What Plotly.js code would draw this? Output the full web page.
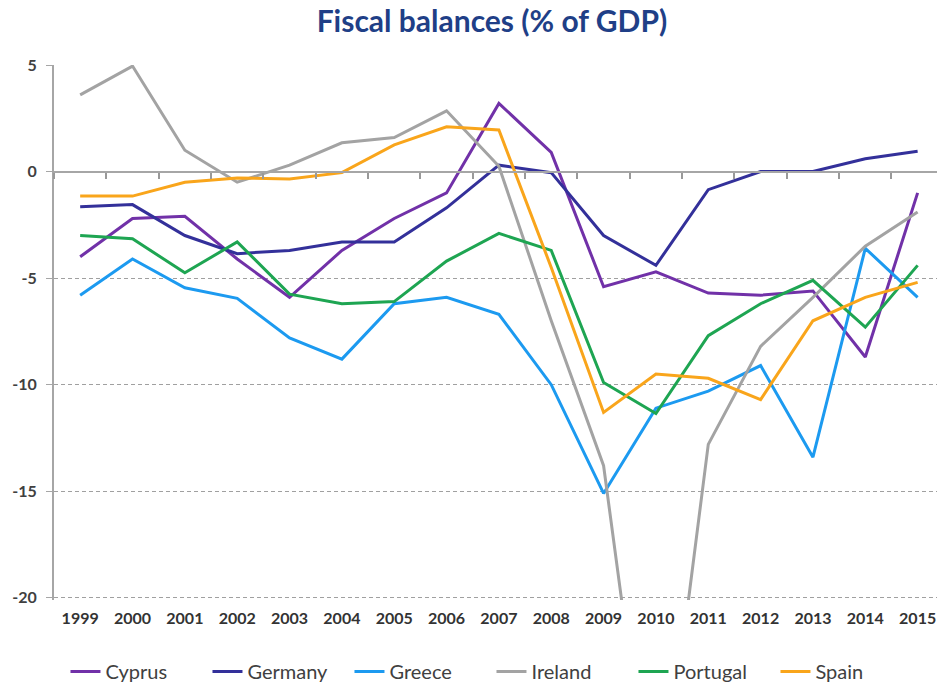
<!DOCTYPE html>
<html>
<head>
<meta charset="utf-8">
<script src="https://cdn.plot.ly/plotly-3.0.1.min.js"></script>
<style>html,body{margin:0;padding:0;background:#fff;}#chart{width:937px;height:687px;}</style>
</head>
<body>
<div id="chart"></div>
<script>
const years = ['1999','2000','2001','2002','2003','2004','2005','2006','2007','2008','2009','2010','2011','2012','2013','2014','2015'];
const cyprus   = [-4.0,-2.2,-2.1,-4.1,-5.9,-3.7,-2.2,-1.0,3.2,0.9,-5.4,-4.7,-5.7,-5.8,-5.6,-8.7,-1.0];
const germany  = [-1.65,-1.55,-3.0,-3.85,-3.7,-3.3,-3.3,-1.7,0.3,-0.05,-3.0,-4.4,-0.85,0.0,0.0,0.6,0.95];
const greece   = [-5.8,-4.1,-5.45,-5.95,-7.8,-8.8,-6.2,-5.9,-6.7,-10.0,-15.1,-11.1,-10.3,-9.1,-13.4,-3.6,-5.9];
const ireland  = [3.6,4.95,1.0,-0.5,0.3,1.35,1.6,2.85,0.25,-7.0,-13.8,-32.1,-12.8,-8.2,-5.9,-3.5,-1.9];
const portugal = [-3.0,-3.15,-4.75,-3.3,-5.75,-6.2,-6.1,-4.2,-2.9,-3.7,-9.9,-11.35,-7.7,-6.2,-5.1,-7.3,-4.4];
const spain    = [-1.15,-1.15,-0.5,-0.3,-0.35,-0.05,1.25,2.1,1.95,-4.5,-11.3,-9.5,-9.7,-10.7,-7.0,-5.9,-5.2];
const yTickVals = [5,0,-5,-10,-15,-20];
const yTickText = ['5','0','-5','-10','-15','-20'];

const series = [
  {name:'Cyprus', y:cyprus, color:'#7131a8'},
  {name:'Germany', y:germany, color:'#33309a'},
  {name:'Greece', y:greece, color:'#1c9af0'},
  {name:'Ireland', y:ireland, color:'#a3a3a3'},
  {name:'Portugal', y:portugal, color:'#1ea552'},
  {name:'Spain', y:spain, color:'#f9a51b'}
];
const traces = series.map(s => ({
  type:'scatter', mode:'lines', name:s.name, x:years, y:s.y,
  line:{color:s.color, width:3}, cliponaxis:true
}));

const xr = [-0.5, 16.37];
const yr = [-20.1, 5];
const zeroPos = (0 - yr[0]) / (yr[1] - yr[0]);
const FONT = 'Lato, "Open Sans", sans-serif';
const layout = {
  width:937, height:687,
  margin:{l:54, r:0, t:65, b:87, autoexpand:false},
  paper_bgcolor:'#fff', plot_bgcolor:'#fff',
  font:{family:FONT, color:'#404040'},
  title:{text:'<b>Fiscal balances (% of GDP)</b>', x:0.525, xanchor:'center', y:0.968, yanchor:'middle',
         font:{size:30, color:'#1f3f87', family:FONT}},
  showlegend:true,
  legend:{orientation:'h', x:0.013, xanchor:'left', y:-0.097, yanchor:'top',
          font:{size:20, color:'#404040'}, itemwidth:30, entrywidth:97, entrywidthmode:'pixels', tracegroupgap:0},
  xaxis:{type:'category', range:xr, anchor:'free', position:zeroPos,
         showgrid:false, zeroline:false,
         showline:true, linecolor:'#a6a6a6', linewidth:2,
         ticks:'outside', tickson:'boundaries', ticklen:6, tickwidth:2, tickcolor:'#999999',
         tickfont:{size:16, color:'#333333', weight:'bold'}, ticklabelstandoff:432},
  yaxis:{range:yr, tickmode:'array', tickvals:yTickVals, ticktext:yTickText,
         showgrid:true, gridcolor:'#a0a0a0', griddash:'4px,3px', gridwidth:1,
         zeroline:true, zerolinecolor:'#a6a6a6', zerolinewidth:2,
         showline:true, linecolor:'#a6a6a6', linewidth:2,
         ticks:'outside', ticklen:6, tickcolor:'#a6a6a6', ticklabelstandoff:6,
         tickfont:{size:16, color:'#404040', weight:'bold'}}
};
Plotly.newPlot('chart', traces, layout, {displayModeBar:false, staticPlot:true});
</script>
</body>
</html>
